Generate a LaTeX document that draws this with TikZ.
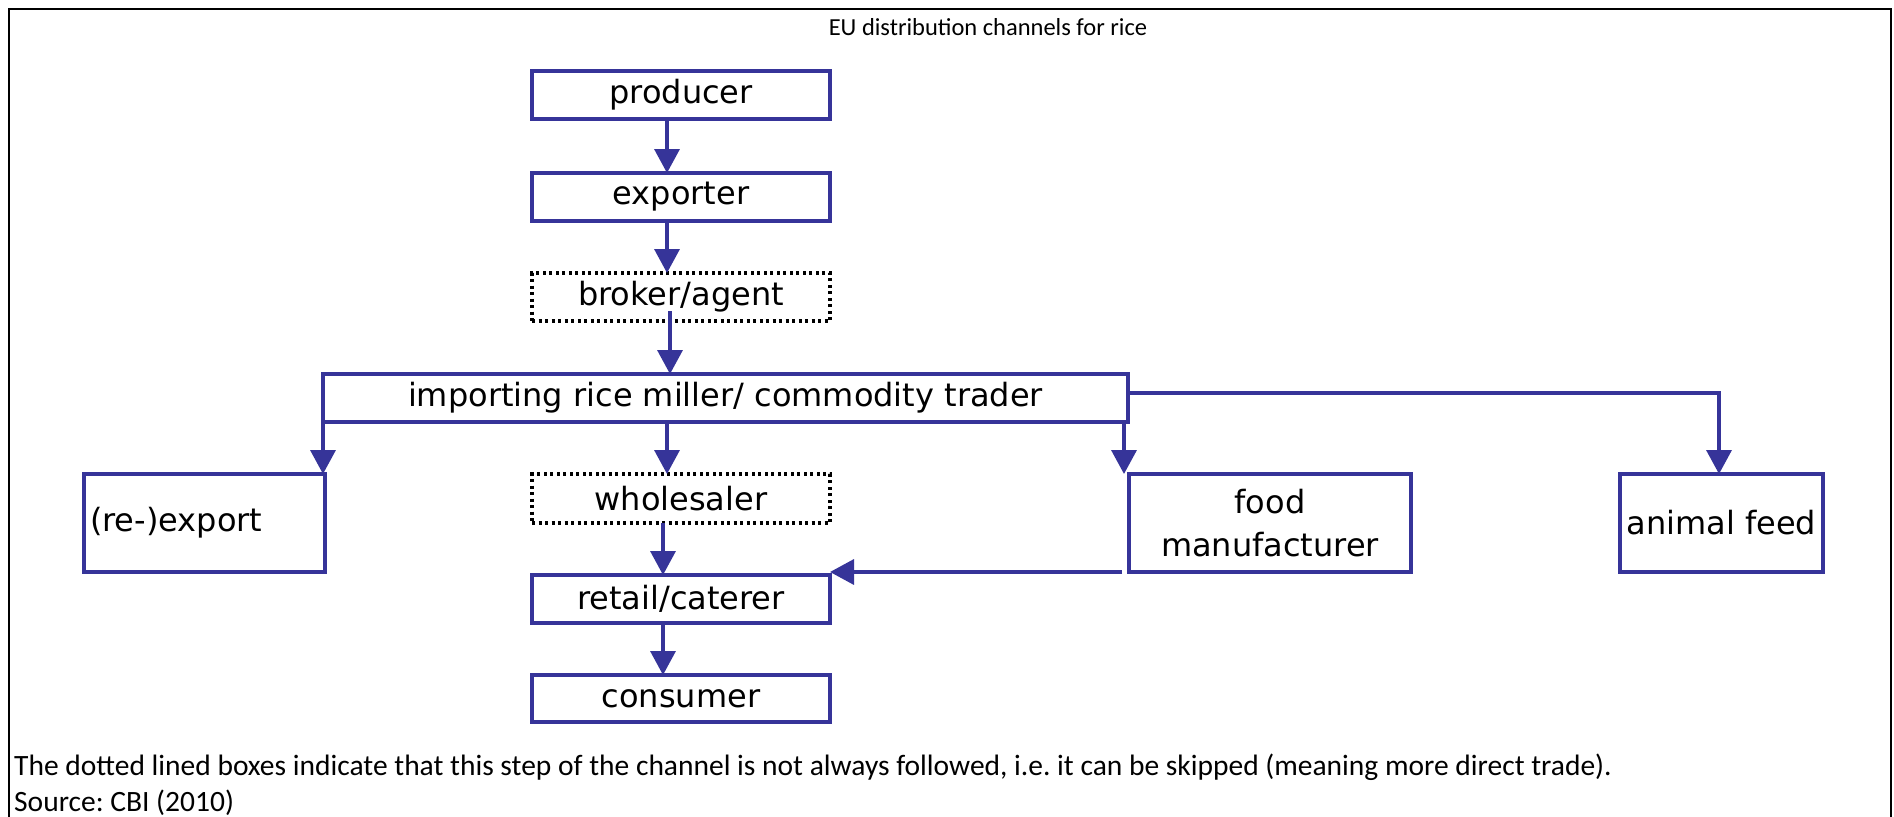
\documentclass[tikz,border=0pt]{standalone}
\usepackage{fontspec}
\setmainfont{Carlito}
\newfontfamily\boxfont{DejaVu Sans}
\usetikzlibrary{arrows.meta}
\definecolor{chanblue}{RGB}{54,52,153}

\begin{document}
\frenchspacing
\begin{tikzpicture}[x=1pt,y=-1pt,
  stage/.style={draw=chanblue, line width=4.5pt, inner sep=0pt, outer sep=0pt,
    font=\boxfont\fontsize{32}{43}\selectfont, text=black},
  optional/.style={draw=black, line width=3.5pt, dash pattern=on 3pt off 3.5pt,
    inner sep=0pt, outer sep=0pt, font=\boxfont\fontsize{32}{43}\selectfont, text=black},
  flow/.style={draw=chanblue, line width=3.5pt, -{Triangle[length=24pt,width=25pt]}},
  note/.style={font=\fontsize{29.5}{35}\selectfont, anchor=base west, inner sep=0pt},
]
% page and frame
\fill[white] (0,0) rectangle (1894,816);
\useasboundingbox (0,0) rectangle (1894,816);
\draw[line width=2pt] (9,817) -- (9,9) -- (1891,9) -- (1891,817);

\node[font=\fontsize{24.5}{29}\selectfont] (title) at (988,27) {EU distribution channels for rice};

% main chain
\node[stage, minimum width=298pt, minimum height=48pt] (producer) at (681,95) {producer};
\node[stage, minimum width=298pt, minimum height=48pt] (exporter) at (681,197) {exporter};
\node[optional, minimum width=298pt, minimum height=48pt] (broker) at (681,297) {broker/agent};
\node[stage, minimum width=805pt, minimum height=48pt] (importing) at (725.5,398)
  {importing rice miller/ commodity trader};

% outlets of the importer
\node[stage, minimum width=241pt, minimum height=98pt, text width=229pt, align=left]
  (reexport) at (204.5,523) {(re-)export};
\node[optional, minimum width=298pt, minimum height=49pt] (wholesaler) at (681,498.5) {wholesaler};
\node[stage, minimum width=298pt, minimum height=48pt] (retail) at (681,599) {retail/caterer};
\node[stage, minimum width=298pt, minimum height=47pt] (consumer) at (681,698.5) {consumer};
\node[stage, minimum width=282pt, minimum height=98pt, align=center] (food) at (1270,523)
  {food\\manufacturer};
\node[stage, minimum width=203pt, minimum height=98pt] (animal) at (1721.5,523) {animal feed};

% connector columns
\coordinate (a1) at (667,0);
\coordinate (a2) at (670,0);
\coordinate (a3) at (663,0);
\coordinate (a5) at (1124,0);
\coordinate (tap) at ([yshift=5pt]importing.east);

\draw[flow] (producer.south -| a1) -- (exporter.north -| a1);
\draw[flow] (exporter.south -| a1) -- (broker.north -| a1);
\draw[flow] ([yshift=10pt]broker.south -| a2) -- (importing.north -| a2);
\draw[flow] (importing.south west) -- (importing.south west |- reexport.north);
\draw[flow] (importing.south -| a1) -- (wholesaler.north -| a1);
\draw[flow] (importing.south -| a5) -- (food.north -| a5);
\draw[flow] (tap) -| ([xshift=-2.5pt]animal.north);
\draw[flow] (wholesaler.south -| a3) -- (retail.north -| a3);
\draw[flow] (retail.south -| a3) -- (consumer.north -| a3);
\draw[flow] ([xshift=-7pt]food.south west) -- (food.south west -| retail.east);

% notes below the chart
\node[note] (note1) at (14,775) {The dotted lined boxes indicate that this step of the channel is not always followed, i.e. it can be skipped (meaning more direct trade).};
\node[note] (note2) at (14,811) {Source: CBI (2010)};
\end{tikzpicture}
\end{document}
